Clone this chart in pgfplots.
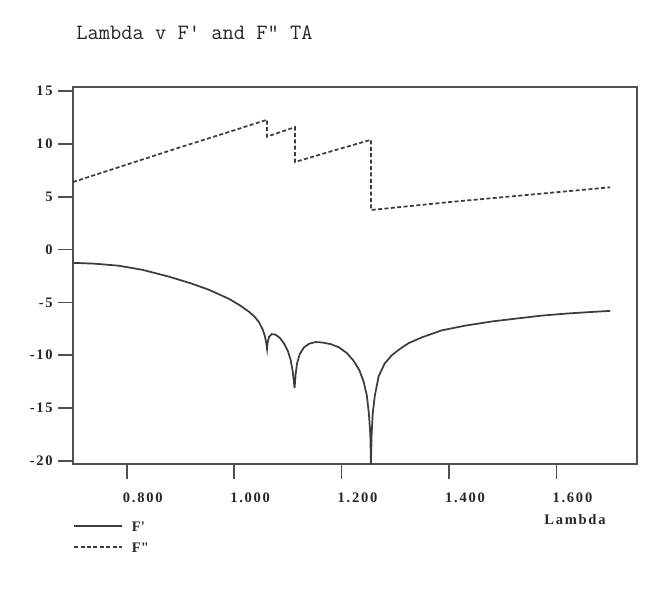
\documentclass[border=0pt]{standalone}
\usepackage{fontspec}
\setmainfont{Liberation Serif}
\newfontfamily\tf[LetterSpace=12]{Liberation Serif}
\newfontfamily\titlef{Latin Modern Mono}
\usepackage{pgfplots}
\pgfplotsset{compat=1.18}
\definecolor{ink}{HTML}{3C3C3C}
\definecolor{axc}{HTML}{505050}
\begin{document}
\begin{tikzpicture}
\path[use as bounding box] (-54.75pt,-94.5pt) rectangle (434.25pt,348pt);
\begin{axis}[
  scale only axis, width=423pt, height=282.75pt,
  xmin=0.7, xmax=1.75, ymin=-20.3, ymax=15.4,
  axis line style={axc, line width=1.2pt},
  tick style={axc, line width=1.2pt},
  tick pos=left, tick align=outside, major tick length=11pt,
  xtick={0.8,1.0,1.2,1.4,1.6}, xticklabels={0.800,1.000,1.200,1.400,1.600},
  ytick={-20,-15,-10,-5,0,5,10,15},
  yticklabels={-20,-15,-10,-5,0,5,10,15},
  ticklabel style={font=\tf\bfseries\fontsize{10.9}{12}\selectfont, text=black!85},
  xticklabel style={anchor=center, inner sep=0pt, xshift=12pt, yshift=-14.5pt},
  yticklabel style={anchor=east, inner sep=0pt, xshift=-4pt},
  title={\titlef\fontsize{16.4}{18}\selectfont Lambda v F\textquotesingle{} and F\textquotedbl{} TA},
  title style={at={(axis description cs:0,1)}, anchor=west, inner sep=0pt, xshift=2.25pt, yshift=34.5pt, text=black!85},
  xlabel={Lambda},
  xlabel style={at={(axis description cs:0.89,0)}, anchor=center, inner sep=0pt, yshift=-41.8pt, font=\tf\bfseries\fontsize{10.9}{12}\selectfont, text=black!85},
  legend style={at={(axis description cs:0,0)}, anchor=north west, yshift=-42.5pt, draw=none, fill=none, inner xsep=0pt, inner ysep=0pt, row sep=7.75pt, column sep=6.75pt, font=\tf\bfseries\fontsize{10.9}{12}\selectfont, text=black!85, nodes={inner sep=0pt, text height=8pt, text depth=0pt}},
  legend cell align=left,
  legend image code/.code={\draw[#1] (0pt,0pt) -- (36pt,0pt);},
  clip=true,
]
\addplot[ink, line width=1.3pt] coordinates {
(0.700,-1.25) (0.740,-1.33) (0.785,-1.52) (0.830,-1.92) (0.878,-2.55) (0.920,-3.20)
(0.953,-3.80) (0.990,-4.65) (1.010,-5.25) (1.027,-5.85) (1.038,-6.35) (1.046,-6.85)
(1.053,-7.55) (1.057,-8.15) (1.0595,-8.75) (1.0613,-9.4) (1.0625,-8.75) (1.065,-8.25)
(1.070,-8.00) (1.077,-8.05) (1.085,-8.35) (1.093,-8.90) (1.100,-9.60) (1.105,-10.40)
(1.109,-11.50) (1.1125,-13.1) (1.1145,-11.80) (1.117,-10.80) (1.122,-9.90) (1.130,-9.25)
(1.140,-8.90) (1.152,-8.75) (1.165,-8.80) (1.180,-8.95) (1.195,-9.25) (1.210,-9.80)
(1.222,-10.50) (1.233,-11.40) (1.241,-12.50) (1.247,-13.80) (1.251,-15.60) (1.2535,-17.5)
(1.2547,-20.3) (1.256,-17.5) (1.258,-15.5) (1.262,-13.8) (1.269,-12.0) (1.280,-10.8)
(1.2935,-10.0) (1.310,-9.35) (1.325,-8.85) (1.350,-8.30) (1.386,-7.65) (1.430,-7.20)
(1.480,-6.80) (1.530,-6.50) (1.572,-6.25) (1.620,-6.05) (1.660,-5.92) (1.700,-5.80)
};
\addlegendentry{F\textquotesingle}
\addplot[ink, line width=1.3pt, dash pattern=on 3pt off 1.8pt] coordinates {
(0.700,6.40) (0.800,8.05) (0.900,9.70) (1.000,11.30) (1.0613,12.30)
(1.0613,10.70) (1.1133,11.60)
(1.1133,8.30) (1.180,9.30) (1.2547,10.40)
(1.2547,3.75) (1.400,4.50) (1.550,5.20) (1.700,5.90)
};
\addlegendentry{F\textquotedbl}
\end{axis}
\end{tikzpicture}
\end{document}
